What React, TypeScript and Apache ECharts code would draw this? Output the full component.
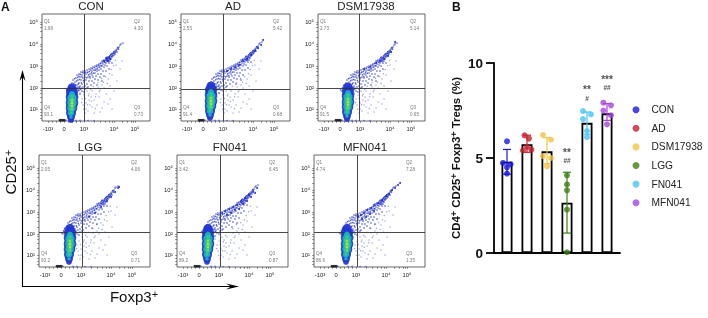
import React, { useEffect, useRef } from "react";
import * as echarts from "echarts";

const FONT = "Liberation Sans";

// ---- Bar chart data (panel B) ----
const groups = ["CON", "AD", "DSM17938", "LGG", "FN041", "MFN041"];
const groupColors = ["#1717e6", "#c4202e", "#f5c143", "#3f7f12", "#48c6f2", "#a944e0"];
const means = [4.8, 5.72, 5.35, 2.65, 6.85, 7.35];
const errLow = [4.15, 5.3, 4.7, 1.05, 6.25, 6.98];
const errHigh = [5.45, 6.2, 6.07, 4.25, 7.42, 7.86];
const dotsCON = [[0, 5.88], [-0.2, 4.74], [0.18, 4.67], [0, 4.51], [0, 4.18]];
const dotsAD = [[-0.12, 6.19], [0.1, 6.02], [0, 5.58], [-0.2, 5.4], [0.22, 5.44]];
const dotsDSM = [[-0.2, 6.21], [0.2, 5.96], [-0.2, 5.1], [0.2, 5.0], [0, 4.56]];
const dotsLGG = [[0, 4.09], [0, 3.61], [0, 3.3], [0, 2.28], [0, 0.04]];
const dotsFN = [[-0.2, 7.47], [0.2, 7.3], [-0.2, 7.05], [0, 6.42], [0, 6.1]];
const dotsMFN = [[-0.18, 7.91], [0.2, 7.77], [-0.18, 7.5], [0.2, 7.25], [0, 6.77]];
const groupDots = [dotsCON, dotsAD, dotsDSM, dotsLGG, dotsFN, dotsMFN];
const sigStars = [[3, 5.3, "**"], [4, 8.58, "**"], [5, 9.14, "***"]];
const sigHash = [[3, 4.86, "##"], [4, 8.14, "#"], [5, 8.7, "##"]];

// ---- Flow cytometry panels (panel A); units are axis display units ----
const flowTitles = ["CON", "AD", "DSM17938", "LGG", "FN041", "MFN041"];
const flowXTicks = [6, 22, 42, 72, 93];
const flowXLabels = ["-10³", "0", "10³", "10⁴", "10⁵"];
const flowYTicks = [12, 33, 55, 77, 99];
const flowYLabels = ["10¹", "10²", "10³", "10⁴", "10⁵"];
const flowXMinor = [10, 14, 18, 26, 30, 34, 38, 52, 58, 63, 67, 70, 80, 85, 89, 91];
const flowYMinor = [3, 6, 9, 19, 24, 28, 31, 40, 46, 50, 53, 62, 68, 72, 75, 84, 90, 94, 97];
const q1Values = ["1.98", "2.55", "2.73", "2.05", "3.42", "4.74"];
const q2Values = ["4.30", "5.42", "5.14", "4.06", "6.45", "7.28"];
const q3Values = ["0.73", "0.68", "0.65", "0.71", "0.87", "1.35"];
const q4Values = ["93.1", "91.4", "91.5", "93.2", "89.2", "86.6"];
const quadX = [42, 42, 41, 43, 43, 43];
const quadY = [33, 32, 33, 35, 35, 35];
const coreX = [30, 30, 30, 31, 31, 33];
const coreY = [18, 20, 19, 23, 23, 23];
const bandShiftX = [0, 0, -2, -2, 0, 1];
const bandShiftY = [0, 1, 0, 3, 4, 3];

const bandDots = [
  [28,36],[30,38],[31,41],[33,39],[34,43],[35,36],[35,46],[36,41],[37,38],[37,47],[38,44],[38,35],[39,49],[39,41],[40,46],[40,37],
  [41,50],[41,43],[42,48],[42,39],[43,50],[43,44],[43,35],[44,47],[44,41],[45,51],[45,37],[46,49],[46,44],[46,34],[47,52],[47,40],
  [48,47],[48,43],[49,53],[49,36],[50,50],[50,46],[50,40],[51,54],[51,44],[52,51],[52,38],[53,55],[53,48],[53,42],[54,52],[54,45],
  [55,56],[55,50],[55,36],[56,54],[56,47],[56,41],[57,57],[57,51],[58,55],[58,44],[59,58],[59,52],[59,47],[60,60],[60,55],[60,40],
  [61,57],[61,50],[62,61],[62,54],[62,45],[63,59],[63,56],[64,62],[64,58],[64,50],[65,63],[65,60],[65,55],[66,61],[66,64],[67,62],
  [67,58],[67,52],[68,65],[68,63],[68,60],[69,66],[69,62],[70,67],[70,64],[70,58],[71,68],[71,65],[72,69],[72,66],[73,70],[73,67],
  [74,71],[75,72],[75,69],[76,73],[77,74],[78,76],[79,77],[81,78],
  [29,34],[32,35],[34,33],[36,34],[33,30],[37,31],[39,33],[41,34],[40,30],[38,27],[43,32],[42,29],[45,33],
];
const bandDotsFine = [
  [26.5,33.2],[27.4,35.1],[29.2,36.8],[30.6,34.4],[31.7,37.5],[32.5,42.3],[33.4,36.1],[34.6,40.2],[35.7,43.6],[36.3,37.2],[36.8,44.8],[37.6,41.5],
  [38.4,46.7],[39.3,38.2],[39.8,44.1],[40.6,48.3],[41.4,40.7],[42.5,45.6],[43.2,48.7],[44.6,43.2],[45.3,48.4],[46.5,46.1],[47.4,49.6],[47.8,44.3],
  [48.6,51.2],[49.5,48.2],[50.4,52.3],[51.3,47.9],[52.5,53.4],[53.2,50.7],[54.4,54.6],[55.3,52.2],[56.5,55.8],[57.6,53.7],[58.4,57.3],[59.5,55.4],
  [60.6,58.7],[61.3,60.2],[62.5,58.6],[63.4,60.8],[64.4,60.3],[64.8,63.6],[65.5,61.7],[65.9,59.4],[66.4,62.8],[66.8,60.2],[67.4,63.7],[67.7,65.2],
  [68.5,62.3],[68.7,66.5],[69.4,64.3],[69.7,67.3],[70.5,65.6],[71.3,67.4],[71.8,69.3],[72.5,67.7],[73.4,68.8],[74.5,70.2],[75.6,73.4],[76.5,71.8],
  [24.6,31.2],[25.8,30.1],[27.2,32.4],[28.4,31.3],[29.7,32.8],[31.3,30.6],[32.8,33.1],[34.2,31.5],[35.4,32.7],[36.6,30.4],[37.3,33.6],[38.6,31.7],
];
const paleDots = [
  [45,30],[47,27],[49,24],[50,30],[52,21],[54,27],[55,16],[57,24],[58,31],[60,13],[62,19],[64,27],[66,17],[68,22],[70,12],[48,16],
  [46,10],[52,8],[72,30],[75,40],[78,52],[80,60],[40,22],[44,18],[42,26],[38,28],[36,24],[44,12],[41,16],[50,14],[56,34],[60,36],
  [66,42],[70,46],[74,56],[47,21],[43,8],[58,9],[62,33],[68,35],
  [46.4,25.3],[48.7,31.6],[51.2,34.7],[53.6,24.2],[55.8,38.3],[57.3,29.4],[59.6,42.6],[61.4,38.7],[63.7,44.2],[65.2,37.6],[67.4,47.3],[69.2,51.4],[71.6,55.2],[73.3,60.7],
  [43.3,22.6],[39.6,18.4],[41.7,11.8],[45.6,16.2],[49.2,19.7],[53.3,12.4],
];
const extraFN = [[45,54],[48,56],[52,58],[56,60],[60,62],[64,66],[68,69],[72,72],[76,75],[80,79],[50,52],[54,54],[58,57],[62,58],[66,63],[70,66],[74,70],[78,74]];
const extraMFN = [[44,50],[47,52],[50,54],[53,57],[57,59],[60,62],[64,64],[68,67],[72,71],[75,73],[78,77],[81,79],[84,82],[86,84],[48,48],[52,50],[56,53],[60,56]];
const extraAD = [[46,50],[50,52],[54,54],[58,56],[62,60],[66,62],[70,66],[74,70],[77,73],[80,76],[82,81]];
const extraDSM = [[46,52],[52,54],[58,58],[62,60],[66,62],[70,65],[73,69],[77,79]];
const extraLGG = [[50,50],[56,54],[62,60],[68,66],[72,70],[76,75],[79,79],[80,80]];
const extraCON = [[62,60],[65,62],[67,64],[64,63],[66,60],[68,62]];
const panelExtras = [extraCON, extraAD, extraDSM, extraLGG, extraFN, extraMFN];

// core density layers: [offset x, offset y, dot size]
const coreBlue = [[0,15,9],[0,11,12],[0,6,12.5],[0,0,12.5],[-0.5,-5,11.5],[-1,-10,10],[-1,-14,8],[-1,-17,6]];
const coreCyan = [[0,9,6],[0,5,9],[0,0,9.5],[-0.5,-5,8.5],[-1,-10,6.5],[-1,-14,3.5]];
const coreGreen = [[0,7,3.5],[0,3,6],[0,-2,6],[-0.5,-6,5],[-1,-10,3]];
const coreYellow = [[0,3,2],[0,0,3],[0,-3,2.5],[0,-6,1.5]];
const axisStrip = [[18,0.8],[20,0.8],[21,0.8],[23,0.8],[24,0.8],[34,0.6],[38,0.6],[46,0.5],[52,0.5]];

const panelBoxes = [
  { left: 42, top: 14, width: 108, height: 107 },
  { left: 181, top: 14, width: 109, height: 107 },
  { left: 318, top: 14, width: 107, height: 107 },
  { left: 39, top: 155, width: 111, height: 112 },
  { left: 177, top: 155, width: 111, height: 112 },
  { left: 314, top: 155, width: 111, height: 112 },
];
const barGrid = { left: 494, top: 63, width: 126, height: 190 };

function buildFlow(i: number) {
  const base = { xAxisIndex: i, yAxisIndex: i, type: "scatter", silent: true, animation: false };
  const cx = coreX[i];
  const cy = coreY[i];
  const sy = panelBoxes[i].height / 107;
  const layer = (pts: number[][], color: string, z: number) => ({
    ...base,
    z,
    data: pts.map((p) => [cx + p[0], cy + p[1] * sy, p[2]]),
    symbolSize: (v: number[]) => v[2],
    itemStyle: { color, opacity: 0.92 },
  });
  const band = [...bandDots, ...bandDotsFine].map((p) => [p[0] + bandShiftX[i], p[1] + bandShiftY[i]]);
  const pale = paleDots.map((p) => [p[0] + bandShiftX[i], p[1]]);
  const h = panelBoxes[i].height;
  return [
    { ...base, z: 2, data: pale, symbolSize: 1.3, itemStyle: { color: "#7f8ae6", opacity: 0.85 } },
    { ...base, z: 3, data: band, symbolSize: 1.5, itemStyle: { color: "#2433cc", opacity: 0.8 } },
    { ...base, z: 3, data: panelExtras[i], symbolSize: 2, itemStyle: { color: "#1c2ac4", opacity: 0.9 } },
    { ...base, z: 3, data: axisStrip, symbolSize: 1.4, itemStyle: { color: "#2c3ad2" } },
    layer(coreBlue, "#2236d0", 4),
    layer(coreCyan, "#18b4c8", 5),
    layer(coreGreen, "#38cf70", 6),
    layer(coreYellow, "#b6e43a", 7),
    {
      ...base,
      z: 8,
      data: [[flowXTicks[1] - 4, 0.8], [flowXTicks[1] - 2, 0.8], [flowXTicks[1], 0.8]],
      symbol: "rect",
      symbolSize: 2.5,
      itemStyle: { color: "#111" },
      markLine: {
        silent: true,
        symbol: "none",
        animation: false,
        label: { show: false },
        lineStyle: { color: "#333", width: 0.9, type: "solid" },
        data: [{ xAxis: quadX[i] }, { yAxis: quadY[i] }],
      },
    },
    {
      ...base,
      z: 9,
      data: [
        [2, h - 7, "Q1"],
        [2, h - 14, q1Values[i]],
        [92, h - 7, "Q2"],
        [92, h - 14, q2Values[i]],
        [2, 14, "Q4"],
        [2, 7, q4Values[i]],
        [92, 14, "Q3"],
        [92, 7, q3Values[i]],
      ],
      symbolSize: 0,
      label: {
        show: true,
        position: "right",
        distance: 0,
        fontSize: 4.6,
        fontFamily: FONT,
        color: "#555",
        formatter: (p: any) => p.value[2],
      },
    },
  ];
}

function sup(text: string, x: number, y: number, rotation = 0) {
  return {
    type: "text",
    x,
    y,
    rotation,
    style: {
      text,
      fontFamily: FONT,
      fontSize: 15,
      fill: "#111",
      align: "center",
      verticalAlign: "middle",
      rich: {
        s: { fontSize: 11, fontFamily: FONT, fill: "#111", verticalAlign: "top", padding: [0, 0, 5, 0] },
      },
    },
  };
}

function buildOption() {
  const grids: any[] = panelBoxes.map((b) => ({ ...b, show: true, borderColor: "#555", borderWidth: 0.9, backgroundColor: "#fff" }));
  const xAxes: any[] = panelBoxes.map((b, i) => ({
    gridIndex: i,
    type: "value",
    min: 0,
    max: b.width,
    splitLine: { show: false },
    axisLine: { show: false },
    axisTick: { show: true, length: 1.8, lineStyle: { color: "#444", width: 0.6 }, customValues: [...flowXTicks, ...flowXMinor] },
    axisLabel: {
      show: true,
      customValues: flowXTicks,
      fontSize: 5.8,
      margin: 5,
      color: "#222",
      fontFamily: FONT,
      formatter: (v: number) => flowXLabels[flowXTicks.indexOf(v)] ?? "",
    },
  }));
  const yAxes: any[] = panelBoxes.map((b, i) => ({
    gridIndex: i,
    type: "value",
    min: 0,
    max: b.height,
    splitLine: { show: false },
    axisLine: { show: false },
    axisTick: { show: true, length: 1.8, lineStyle: { color: "#444", width: 0.6 }, customValues: [...flowYTicks, ...flowYMinor] },
    axisLabel: {
      show: true,
      customValues: flowYTicks,
      fontSize: 5.8,
      margin: 4,
      color: "#222",
      fontFamily: FONT,
      formatter: (v: number) => flowYLabels[flowYTicks.indexOf(v)] ?? "",
    },
  }));

  const bi = panelBoxes.length;
  grids.push({ ...barGrid });
  xAxes.push({
    gridIndex: bi,
    type: "value",
    min: -0.65,
    max: 5.65,
    splitLine: { show: false },
    axisTick: { show: false },
    axisLabel: { show: false },
    axisLine: { show: true, onZero: false, lineStyle: { color: "#000", width: 1.8 } },
  });
  yAxes.push({
    gridIndex: bi,
    type: "value",
    min: 0,
    max: 10,
    interval: 5,
    splitLine: { show: false },
    axisLine: { show: true, onZero: false, lineStyle: { color: "#000", width: 1.8 } },
    axisTick: { show: true, length: 8, lineStyle: { color: "#000", width: 1.8 } },
    axisLabel: { fontSize: 13.5, fontWeight: "bold", color: "#111", fontFamily: FONT, margin: 11 },
    name: "CD4{s|+} CD25{s|+} Foxp3{s|+} Tregs (%)",
    nameLocation: "middle",
    nameRotate: 90,
    nameGap: 32,
    nameTextStyle: {
      fontSize: 11.4,
      fontWeight: "bold",
      color: "#111",
      fontFamily: FONT,
      rich: { s: { fontSize: 9, fontWeight: "bold", color: "#111", fontFamily: FONT, verticalAlign: "top", padding: [0, 0, 4, 0] } },
    },
  });

  const barBase = { xAxisIndex: bi, yAxisIndex: bi, animation: false, silent: true };
  const series: any[] = [];
  panelBoxes.forEach((_, i) => series.push(...buildFlow(i)));
  series.push({
    ...barBase,
    type: "bar",
    name: "Mean",
    z: 2,
    barWidth: 11,
    data: means.map((m, i) => [i, m]),
    itemStyle: { color: "#fff", borderColor: "#000", borderWidth: 1.8 },
  });
  series.push({
    ...barBase,
    type: "custom",
    name: "SD",
    z: 3,
    data: groups.map((_, i) => [i, errLow[i], errHigh[i]]),
    renderItem: (params: any, api: any) => {
      const x = api.value(0);
      const lo = api.coord([x, api.value(1)]);
      const hi = api.coord([x, api.value(2)]);
      const color = groupColors[params.dataIndex];
      const style = { stroke: color, lineWidth: 1.2, fill: "none" };
      const cap = 4;
      return {
        type: "group",
        children: [
          { type: "line", shape: { x1: lo[0], y1: lo[1], x2: hi[0], y2: hi[1] }, style },
          { type: "line", shape: { x1: lo[0] - cap, y1: lo[1], x2: lo[0] + cap, y2: lo[1] }, style },
          { type: "line", shape: { x1: hi[0] - cap, y1: hi[1], x2: hi[0] + cap, y2: hi[1] }, style },
        ],
      };
    },
  });
  groups.forEach((g, i) => {
    series.push({
      ...barBase,
      type: "scatter",
      name: g,
      z: 4,
      symbolSize: 6,
      itemStyle: { color: groupColors[i] },
      data: groupDots[i].map((d) => [i + d[0], d[1]]),
    });
  });
  const sigSeries = (pts: any[], fontSize: number) => ({
    ...barBase,
    type: "scatter",
    name: "sig",
    z: 5,
    symbolSize: 0,
    data: pts,
    label: {
      show: true,
      position: "inside",
      fontSize,
      fontWeight: "bold",
      color: "#222",
      fontFamily: FONT,
      formatter: (p: any) => p.value[2],
    },
  });
  series.push(sigSeries(sigStars, 10), sigSeries(sigHash, 6.5));

  return {
    animation: false,
    backgroundColor: "#fff",
    grid: grids,
    xAxis: xAxes,
    yAxis: yAxes,
    series,
    legend: {
      data: groups,
      orient: "vertical",
      left: 627.5,
      top: 99,
      itemWidth: 7,
      itemHeight: 7,
      itemGap: 7.2,
      icon: "circle",
      selectedMode: false,
      textStyle: { fontSize: 10.2, color: "#222", fontFamily: FONT, padding: [0, 0, 0, 7], lineHeight: 11.4 },
    },
    graphic: [
      { type: "text", x: 1, y: 1, style: { text: "A", fontFamily: FONT, fontWeight: "bold", fontSize: 12, fill: "#111" } },
      { type: "text", x: 452, y: 1, style: { text: "B", fontFamily: FONT, fontWeight: "bold", fontSize: 12, fill: "#111" } },
      ...flowTitles.map((t, i) => ({
        type: "text",
        x: [91, 233, 366, 90, 230, 365][i],
        y: i < 3 ? 5.5 : 147,
        style: { text: t, fontFamily: FONT, fontSize: 11.5, fill: "#222", align: "center", verticalAlign: "middle" },
      })),
      { type: "polyline", shape: { points: [[22.5, 74], [22.5, 286.5], [234, 286.5]] }, style: { stroke: "#000", lineWidth: 1.1, fill: "none" } },
      { type: "polygon", shape: { points: [[22.5, 70], [19.5, 81], [22.5, 77], [25.5, 81]] }, style: { fill: "#000" } },
      { type: "polygon", shape: { points: [[239, 286.5], [226, 283.5], [231, 286.5], [226, 289.5]] }, style: { fill: "#000" } },
      sup("CD25{s|+}", 10, 172, Math.PI / 2),
      sup("Foxp3{s|+}", 134, 296),
    ],
  };
}

export default function App() {
  const ref = useRef<HTMLDivElement>(null);
  useEffect(() => {
    const chart = echarts.init(ref.current!, undefined, { renderer: "svg" });
    chart.setOption(buildOption() as any);
    return () => chart.dispose();
  }, []);
  return (
    <div
      ref={ref}
      style={{ position: "absolute", left: 0, top: 0, width: 708, height: 318, background: "#fff", filter: "blur(0.35px)" }}
    />
  );
}
